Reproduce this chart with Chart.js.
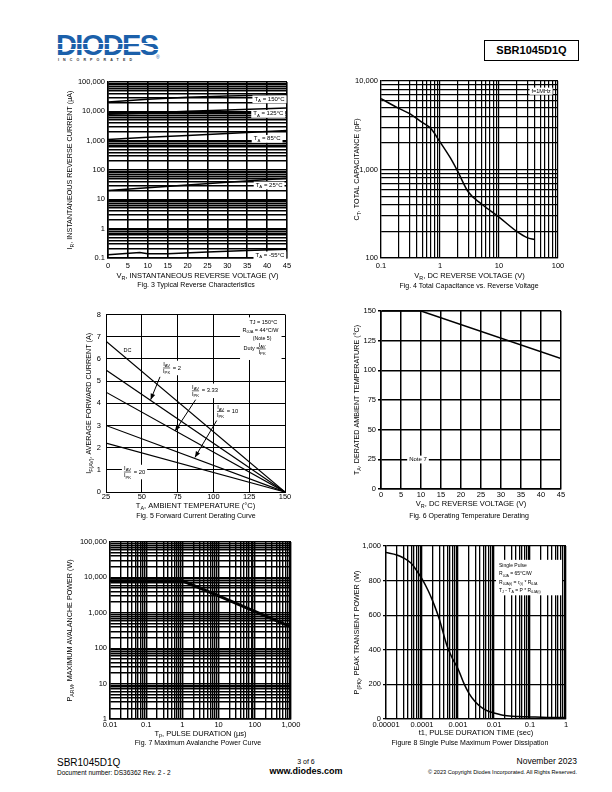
<!DOCTYPE html>
<html><head><meta charset="utf-8">
<script src="https://cdn.jsdelivr.net/npm/chart.js@4.4.0/dist/chart.umd.min.js"></script>
<style>
body{margin:0;width:612px;height:792px;position:relative;background:#fff;font-family:"Liberation Sans",Arial,sans-serif;overflow:hidden;color:#000}
.abs{position:absolute}
.cap{position:absolute;z-index:10;font-size:7px;white-space:nowrap;width:300px;text-align:center;line-height:8px;color:#000}
</style></head><body>
<div class="abs" style="left:56px;top:30px;font:bold 29px 'Liberation Sans',Arial;color:#1b60aa;letter-spacing:-1.6px;line-height:30px;font-style:normal">DIODES</div>
<div class="abs" style="left:56px;top:43px;width:104px;height:1.2px;background:#fff"></div>
<div class="abs" style="left:56px;top:49px;width:104px;height:1.2px;background:#fff"></div>
<div class="abs" style="left:58px;top:58px;font:bold 3.6px 'Liberation Sans',Arial;letter-spacing:4.1px;color:#333">INCORPORATED</div>
<div class="abs" style="left:156px;top:54px;font:5px 'Liberation Sans',Arial;color:#1b60aa">®</div>
<div class="abs" style="left:484px;top:40px;width:93px;height:19px;border:1px solid #000;font:bold 11px 'Liberation Sans',Arial;text-align:center;line-height:19px">SBR1045D1Q</div>

<div class="abs" style="left:57px;top:757px;font-size:10px;line-height:11px">SBR1045D1Q</div>
<div class="abs" style="left:57px;top:769px;font-size:6.5px;line-height:7px">Document number: DS36362 Rev. 2 - 2</div>
<div class="abs" style="left:256px;width:100px;text-align:center;top:758px;font-size:7px;line-height:8px">3 of 6</div>
<div class="abs" style="left:256px;width:100px;text-align:center;top:766px;font-weight:bold;font-size:9px;line-height:10px">www.diodes.com</div>
<div class="abs" style="right:35px;top:757px;font-size:8.5px;line-height:9px;text-align:right">November 2023</div>
<div class="abs" style="right:35px;top:769px;font-size:5.6px;line-height:6px;text-align:right">© 2023 Copyright Diodes Incorporated. All Rights Reserved.</div>

<script>
// ---------------- DATA ----------------
// Fig 3: Typical reverse characteristics (uA vs V)
const fig3Volt = [0, 10, 20, 30, 45];
const fig3I150 = [21000, 26000, 30000, 33000, 37000];
const fig3I125 = [8000, 8800, 10000, 11000, 13000];
const fig3I85 = [1100, 1300, 1500, 1750, 2200];
const fig3I25 = [20, 25, 31, 38, 52];
const fig3VoltLow = [0, 8, 10, 15, 25, 35, 45];
const fig3Im55 = [0.13, 0.155, 0.14, 0.14, 0.16, 0.18, 0.2];
const fig3XLabels = ['0','5','10','15','20','25','30','35','40','45'];
const fig3YLabels = ['0.1','1','10','100','1,000','10,000','100,000'];
// Fig 4: Total capacitance vs reverse voltage
const fig4Volt = [0.1, 0.2, 0.3, 0.5, 0.7, 1, 1.5, 2, 3, 5, 10, 20, 30, 40];
const fig4Cap = [6300, 4900, 4300, 3400, 2900, 2050, 1350, 950, 560, 410, 290, 200, 170, 162];
const fig4XLabels = ['0.1','1','10','100'];
const fig4YLabels = ['100','1,000','10,000'];
// Fig 5: Forward current derating
const fig5Temp = [25, 150];
const fig5DC = [6.8, 0];
const fig5Duty2 = [5.5, 0];
const fig5Duty333 = [4.5, 0];
const fig5Duty10 = [3.0, 0];
const fig5Duty20 = [2.2, 0];
const fig5XLabels = ['25','50','75','100','125','150'];
const fig5YLabels = ['0','1','2','3','4','5','6','7','8'];
// Fig 6: Operating temperature derating
const fig6Volt = [0, 10, 45];
const fig6Temp = [150, 150, 110];
const fig6XLabels = ['0','5','10','15','20','25','30','35','40','45'];
const fig6YLabels = ['0','25','50','75','100','125','150'];
// Fig 7: Maximum avalanche power
const fig7Time = [0.01, 1, 10, 100, 1000];
const fig7Power = [8000, 8000, 3000, 1100, 400];
const fig7XLabels = ['0.01','0.1','1','10','100','1,000'];
const fig7YLabels = ['1','10','100','1,000','10,000','100,000'];
// Fig 8: Single pulse maximum power dissipation
const fig8Time = [0.00001, 0.00002, 0.00003, 0.00005, 0.00007, 0.0001, 0.00015, 0.0002, 0.0003, 0.0005, 0.0007, 0.001, 0.0015, 0.002, 0.003, 0.005, 0.007, 0.01, 0.02, 0.05, 0.1, 0.3, 1];
const fig8Power = [962, 948, 932, 900, 860, 810, 740, 680, 580, 420, 350, 290, 200, 150, 100, 60, 45, 35, 20, 14, 12, 9, 8];
const fig8XLabels = ['0.00001','0.0001','0.001','0.01','0.1','1'];
const fig8YLabels = ['0','200','400','600','800','1,000'];

// ---------------- HELPERS ----------------
const FF = '"Liberation Sans", Arial, sans-serif';
function pts(xs, ys){ return xs.map((x,i)=>({x:x, y:ys[i]})); }
function logTicks(minE, maxE){ const t=[]; for(let e=minE;e<maxE;e++){ for(let m=1;m<10;m++) t.push(+(m*Math.pow(10,e)).toPrecision(6)); } t.push(+Math.pow(10,maxE).toPrecision(6)); return t; }
function decLabel(labels, minE){ return function(v){ const e=Math.log10(v); const r=Math.round(e); return Math.abs(e-r)<1e-6 ? labels[r-minE] : ''; }; }
function parts(str){ const out=[]; const re=/_\{([^}]*)\}/g; let last=0,m; while((m=re.exec(str))){ if(m.index>last) out.push({t:str.slice(last,m.index),sub:false}); out.push({t:m[1],sub:true}); last=re.lastIndex; } if(last<str.length) out.push({t:str.slice(last),sub:false}); return out; }
function richWidth(ctx,str,size){ let w=0; parts(str).forEach(p=>{ ctx.font=(p.sub?size*0.72:size)+'px '+FF; w+=ctx.measureText(p.t).width; }); return w; }
function rich(ctx,str,x,y,size,align,bg,rot){
  const ps=parts(str); ctx.save(); ctx.translate(x,y); if(rot) ctx.rotate(rot);
  const w=richWidth(ctx,str,size);
  let sx = align==='center' ? -w/2 : (align==='right' ? -w : 0);
  if(bg){ ctx.fillStyle='#fff'; ctx.fillRect(sx-2,-size*0.62,w+4,size*1.3); }
  ctx.fillStyle='#000'; ctx.textBaseline='middle'; ctx.textAlign='left';
  ps.forEach(p=>{ const s=p.sub?size*0.72:size; ctx.font=s+'px '+FF; ctx.fillText(p.t,sx,p.sub?size*0.3:0); sx+=ctx.measureText(p.t).width; });
  ctx.restore(); return w;
}
function frac(ctx,x,y,num,den,suffix,size,bg){
  const wn=richWidth(ctx,num,size), wd=richWidth(ctx,den,size), w=Math.max(wn,wd);
  const ws = suffix ? richWidth(ctx,suffix,size) : 0;
  if(bg){ ctx.fillStyle='#fff'; ctx.fillRect(x-2,y-size*1.25,w+ws+5,size*2.5); }
  rich(ctx,num,x+w/2,y-size*0.62,size,'center');
  rich(ctx,den,x+w/2,y+size*0.62,size,'center');
  ctx.strokeStyle='#000'; ctx.lineWidth=0.6; ctx.beginPath(); ctx.moveTo(x,y); ctx.lineTo(x+w,y); ctx.stroke();
  if(suffix) rich(ctx,suffix,x+w+1,y,size,'left');
}
function arrow(ctx,x1,y1,x2,y2){
  ctx.strokeStyle='#000'; ctx.fillStyle='#000'; ctx.lineWidth=1; ctx.beginPath(); ctx.moveTo(x1,y1); ctx.lineTo(x2,y2); ctx.stroke();
  const a=Math.atan2(y2-y1,x2-x1), L=6, W=2.4;
  ctx.beginPath(); ctx.moveTo(x2,y2);
  ctx.lineTo(x2-L*Math.cos(a)+W*Math.sin(a), y2-L*Math.sin(a)-W*Math.cos(a));
  ctx.lineTo(x2-L*Math.cos(a)-W*Math.sin(a), y2-L*Math.sin(a)+W*Math.cos(a));
  ctx.closePath(); ctx.fill();
}

function makeChart(c){
  const L=52,T=8,R=18,B=26;
  const div=document.createElement('div'); div.className='abs';
  div.style.left=(c.box.x-L)+'px'; div.style.top=(c.box.y-T)+'px';
  div.style.width=(c.box.w+L+R)+'px'; div.style.height=(c.box.h+T+B)+'px';
  const cv=document.createElement('canvas'); div.appendChild(cv); document.body.appendChild(div);
  const cap=document.createElement('div'); cap.className='cap'; cap.textContent=c.caption;
  cap.style.left=(c.capX-150)+'px'; cap.style.top=c.capY+'px'; document.body.appendChild(cap);
  const tickFont={family:FF,size:7.5};
  function axis(a, isX){
    const o={type:a.type,min:a.min,max:a.max,
      grid:{color:'#000',lineWidth:a.gw||1.2,drawTicks:!!a.tl,tickLength:a.tl||0,tickColor:'#000'},
      border:{display:true,color:'#000',width:a.gw||1.2},
      ticks:{color:'#000',font:tickFont,autoSkip:false,maxRotation:0,padding:a.pad!==undefined?a.pad:3,callback:a.cb}};
    if(a.step) o.ticks.stepSize=a.step;
    if(a.ticks) o.afterBuildTicks=s=>{ s.ticks=a.ticks.map(v=>({value:v})); };
    o.afterFit = isX ? (s=>{s.height=B;}) : (s=>{s.width=L;});
    return o;
  }
  const deco={id:'deco'+c.id, afterDraw(ch){
    const ctx=ch.ctx, ca=ch.chartArea;
    ctx.save();
    if(c.draw) c.draw(ctx, v=>ch.scales.x.getPixelForValue(v), v=>ch.scales.y.getPixelForValue(v));
    rich(ctx,c.xTitle,(ca.left+ca.right)/2,ca.bottom+c.xOff,7.5,'center');
    rich(ctx,c.yTitle,ca.left-c.yOff,(ca.top+ca.bottom)/2,7.2,'center',false,-Math.PI/2);
    ctx.restore();
  }};
  return new Chart(cv,{type:'line',
    data:{datasets:c.datasets.map(d=>({data:d.data,borderColor:'#000',borderWidth:d.w||1.5,pointRadius:0,fill:false,tension:0,cubicInterpolationMode:d.smooth?'monotone':'default'}))},
    options:{responsive:true,maintainAspectRatio:false,animation:false,events:[],
      layout:{padding:{top:T,right:R,left:0,bottom:0}},
      plugins:{legend:{display:false},tooltip:{enabled:false},title:{display:false}},
      scales:{x:axis(c.x,true),y:axis(c.y,false)}},
    plugins:[deco]});
}

// ---------------- CHARTS ----------------
makeChart({id:3, box:{x:108,y:82,w:179,h:176}, caption:'Fig. 3 Typical Reverse Characteristics', capX:196, capY:281,
  x:{type:'linear',min:0,max:45,step:5,gw:1.6,cb:(v,i)=>fig3XLabels[i]},
  y:{type:'logarithmic',min:0.1,max:100000,ticks:logTicks(-1,5),gw:1.4,cb:decLabel(fig3YLabels,-1)},
  datasets:[{data:pts(fig3Volt,fig3I150)},{data:pts(fig3Volt,fig3I125)},{data:pts(fig3Volt,fig3I85)},{data:pts(fig3Volt,fig3I25)},{data:pts(fig3VoltLow,fig3Im55)}],
  xTitle:'V_{R}, INSTANTANEOUS REVERSE VOLTAGE (V)', xOff:18,
  yTitle:'I_{R}, INSTANTANEOUS REVERSE CURRENT (µA)', yOff:38,
  draw(ctx,X,Y){
    rich(ctx,'T_{A} = 150°C',X(40.6),Y(26000),6,'center',true);
    rich(ctx,'T_{A} = 125°C',X(40.3),Y(8300),6,'center',true);
    rich(ctx,'T_{A} = 85°C',X(40),Y(1170),6,'center',true);
    rich(ctx,'T_{A} = 25°C',X(40.5),Y(30),6,'center',true);
    rich(ctx,'T_{A} = -55°C',X(40.7),Y(0.125),6,'center',true);
  }});

makeChart({id:4, box:{x:381,y:81,w:177,h:177}, caption:'Fig. 4 Total Capacitance vs. Reverse Voltage', capX:469, capY:282,
  x:{type:'logarithmic',min:0.1,max:100,ticks:logTicks(-1,2),gw:1.2,cb:decLabel(fig4XLabels,-1)},
  y:{type:'logarithmic',min:100,max:10000,ticks:logTicks(2,4),gw:1.2,cb:decLabel(fig4YLabels,2)},
  datasets:[{data:pts(fig4Volt,fig4Cap),smooth:true}],
  xTitle:'V_{R}, DC REVERSE VOLTAGE (V)', xOff:18,
  yTitle:'C_{T}, TOTAL CAPACITANCE (pF)', yOff:24,
  draw(ctx,X,Y){ rich(ctx,'f=1MHz',X(75),Y(7700),5.5,'right',true); }});

makeChart({id:5, box:{x:106,y:313,w:179,h:179}, caption:'Fig. 5 Forward Current Derating Curve', capX:196, capY:512,
  x:{type:'linear',min:25,max:150,step:25,gw:1,pad:0,cb:(v,i)=>fig5XLabels[i]},
  y:{type:'linear',min:0,max:8,step:1,gw:1,pad:5,cb:(v,i)=>fig5YLabels[i]},
  datasets:[{data:pts(fig5Temp,fig5DC),w:1.2},{data:pts(fig5Temp,fig5Duty2),w:1.2},{data:pts(fig5Temp,fig5Duty333),w:1.2},{data:pts(fig5Temp,fig5Duty10),w:1.2},{data:pts(fig5Temp,fig5Duty20),w:1.2}],
  xTitle:'T_{A}, AMBIENT TEMPERATURE (°C)', xOff:14,
  yTitle:'I_{F(AV)}, AVERAGE FORWARD CURRENT (A)', yOff:17,
  draw(ctx,X,Y){
    rich(ctx,'DC',X(40),Y(6.4),5.5,'center');
    frac(ctx,X(64.8),Y(5.59),'I_{AV}','I_{PK}',' = 2',5.8,true);
    frac(ctx,X(85),Y(4.56),'I_{AV}','I_{PK}',' = 3.33',5.8,true);
    frac(ctx,X(102.5),Y(3.63),'I_{AV}','I_{PK}',' = 10',5.8,true);
    frac(ctx,X(37.5),Y(0.9),'I_{AV}','I_{PK}',' = 20',5.8,true);
    arrow(ctx,X(62.7),Y(5.19),X(56.2),Y(4.16));
    arrow(ctx,X(87.6),Y(4.16),X(73.2),Y(2.75));
    arrow(ctx,X(102.3),Y(3.22),X(87.1),Y(1.56));
    ctx.fillStyle='#fff'; ctx.fillRect(X(118.6),Y(7.87),X(147.6)-X(118.6),Y(5.95)-Y(7.87));
    rich(ctx,'TJ = 150°C',X(144.5),Y(7.64),5.5,'right');
    rich(ctx,'R_{θJA} = 44°C/W',X(145.5),Y(7.29),5.5,'right');
    rich(ctx,'(Note 5)',X(134),Y(6.93),5.2,'center');
    rich(ctx,'Duty = ',X(121),Y(6.45),5.5,'left');
    frac(ctx,X(131.5),Y(6.45),'I_{AV}','I_{PK}','',5.8,false);
  }});

makeChart({id:6, box:{x:381,y:311,w:180,h:178}, caption:'Fig. 6 Operating Temperature Derating', capX:469, capY:512,
  x:{type:'linear',min:0,max:45,step:5,gw:1.5,pad:1,cb:(v,i)=>fig6XLabels[i]},
  y:{type:'linear',min:0,max:150,step:25,gw:1.5,tl:3,pad:2,cb:(v,i)=>fig6YLabels[i]},
  datasets:[{data:pts(fig6Volt,fig6Temp),w:1.5}],
  xTitle:'V_{R}, DC REVERSE VOLTAGE (V)', xOff:15,
  yTitle:'T_{A}, DERATED AMBIENT TEMPERATURE (°C)', yOff:24,
  draw(ctx,X,Y){ rich(ctx,'Note 7',X(9.25),Y(25),6,'center',true); }});

makeChart({id:7, box:{x:110,y:542,w:181,h:177}, caption:'Fig. 7 Maximum Avalanche Power Curve', capX:198, capY:739,
  x:{type:'logarithmic',min:0.01,max:1000,ticks:logTicks(-2,3),gw:1.4,pad:1,cb:decLabel(fig7XLabels,-2)},
  y:{type:'logarithmic',min:1,max:100000,ticks:logTicks(0,5),gw:1.4,cb:decLabel(fig7YLabels,0)},
  datasets:[{data:pts(fig7Time,fig7Power),w:3}],
  xTitle:'T_{p}, PULSE DURATION (µs)', xOff:14.5,
  yTitle:'P_{ARM}, MAXIMUM AVALANCHE POWER (W)', yOff:40});

makeChart({id:8, box:{x:386,y:546,w:180,h:173}, caption:'Figure 8 Single Pulse Maximum Power Dissipation', capX:470, capY:739,
  x:{type:'logarithmic',min:0.00001,max:1,ticks:logTicks(-5,0),gw:1.3,pad:1,cb:decLabel(fig8XLabels,-5)},
  y:{type:'linear',min:0,max:1000,step:200,gw:1.3,tl:3,pad:2,cb:(v,i)=>fig8YLabels[i]},
  datasets:[{data:pts(fig8Time,fig8Power),w:1.5,smooth:true}],
  xTitle:'t1, PULSE DURATION TIME (sec)', xOff:14,
  yTitle:'P_{(PK)}, PEAK TRANSIENT POWER (W)', yOff:29,
  draw(ctx,X,Y){
    const x0=X(0.0138);
    ctx.fillStyle='#fff'; ctx.fillRect(x0-3,Y(920),66,Y(715)-Y(920));
    rich(ctx,'Single Pulse',x0,Y(884),5,'left');
    rich(ctx,'R_{θJA} = 65°C/W',x0,Y(838),5,'left');
    rich(ctx,'R_{θJA(t)} = r_{(t)} * R_{θJA}',x0,Y(788),5,'left');
    rich(ctx,'T_{J} - T_{A} = P * R_{θJA(t)}',x0,Y(742),5,'left');
  }});
</script>
</body></html>
